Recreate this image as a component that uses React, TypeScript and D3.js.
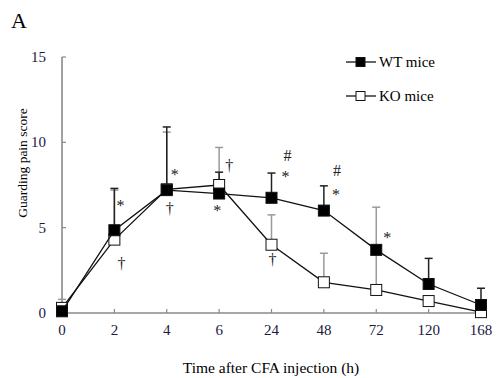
import React, { useEffect, useRef } from 'react'
import * as d3 from 'd3'

const times = ['0', '2', '4', '6', '24', '48', '72', '120', '168']
const wtMean = [0.1, 4.85, 7.2, 7.0, 6.75, 6.0, 3.7, 1.7, 0.47]
const wtUpper = [0.6, 7.3, 10.9, 8.25, 8.2, 7.45, 3.7, 3.2, 1.45]
const koMean = [0.3, 4.3, 7.25, 7.5, 4.0, 1.8, 1.35, 0.7, 0.05]
const koUpper = [0.8, 7.2, 10.6, 9.7, 5.75, 3.5, 6.2, 0.7, 0.05]
const yTicks = [0, 5, 10, 15]

// significance marks: [time index, symbol, dx, value position]
const marks: [number, string, number, number][] = [
  [1, '*', 6, 6.0],
  [1, '†', 7, 2.6],
  [2, '*', 8, 7.8],
  [2, '†', 3, 5.8],
  [3, '†', 10, 8.3],
  [3, '*', -2, 5.7],
  [4, '#', 16, 8.9],
  [4, '*', 14, 7.7],
  [4, '†', 1, 2.8],
  [5, '#', 13, 8.0],
  [5, '*', 12, 6.6],
  [6, '*', 11, 4.1],
]

export default function App() {
  const ref = useRef<SVGSVGElement>(null)

  useEffect(() => {
    const svg = d3.select(ref.current)
    svg.selectAll('*').remove()

    const font = "'Liberation Serif', 'Times New Roman', Times, serif"
    const x = d3.scalePoint<string>().domain(times).range([62, 481])
    const y = d3.scaleLinear().domain([0, 15]).range([313, 57])

    svg.append('text')
      .attr('x', 11).attr('y', 28)
      .style('font-family', font).attr('font-size', 22)
      .text('A')

    // axes
    const axisColor = '#8a8a8a'
    svg.append('line')
      .attr('x1', x('0')!).attr('x2', x('168')!)
      .attr('y1', y(0)).attr('y2', y(0))
      .attr('stroke', axisColor).attr('stroke-width', 1.6)
    svg.append('line')
      .attr('x1', x('0')!).attr('x2', x('0')!)
      .attr('y1', y(0)).attr('y2', y(15))
      .attr('stroke', axisColor).attr('stroke-width', 1.6)

    svg.selectAll('.ytick')
      .data(yTicks)
      .enter()
      .append('line')
      .attr('x1', x('0')!).attr('x2', x('0')! + 4)
      .attr('y1', d => y(d)).attr('y2', d => y(d))
      .attr('stroke', axisColor).attr('stroke-width', 1.2)

    svg.selectAll('.ylabel')
      .data(yTicks)
      .enter()
      .append('text')
      .attr('x', 46).attr('y', d => y(d) + 5)
      .attr('text-anchor', 'end')
      .style('font-family', font).attr('font-size', 15).attr('fill', '#1a1a40')
      .text(d => d)

    svg.selectAll('.xtick')
      .data(times.slice(1))
      .enter()
      .append('line')
      .attr('x1', d => x(d)!).attr('x2', d => x(d)!)
      .attr('y1', y(0)).attr('y2', y(0) - 4)
      .attr('stroke', axisColor).attr('stroke-width', 1.2)

    svg.selectAll('.xlabel')
      .data(times)
      .enter()
      .append('text')
      .attr('x', d => x(d)!).attr('y', 335)
      .attr('text-anchor', 'middle')
      .style('font-family', font).attr('font-size', 15).attr('fill', '#1a1a40')
      .text(d => d)

    svg.append('text')
      .attr('x', 271).attr('y', 373)
      .attr('text-anchor', 'middle')
      .style('font-family', font).attr('font-size', 15.5)
      .text('Time after CFA injection (h)')

    svg.append('text')
      .attr('transform', 'translate(27,163) rotate(-90)')
      .attr('text-anchor', 'middle')
      .style('font-family', font).attr('font-size', 13.5)
      .text('Guarding pain score')

    // error bars
    const errBars = (mean: number[], upper: number[], color: string) => {
      const g = svg.append('g')
      times.forEach((t, i) => {
        if (upper[i] <= mean[i]) return
        g.append('line')
          .attr('x1', x(t)!).attr('x2', x(t)!)
          .attr('y1', y(mean[i])).attr('y2', y(upper[i]))
          .attr('stroke', color).attr('stroke-width', 1.5)
        g.append('line')
          .attr('x1', x(t)! - 4).attr('x2', x(t)! + 4)
          .attr('y1', y(upper[i])).attr('y2', y(upper[i]))
          .attr('stroke', color).attr('stroke-width', 1.5)
      })
    }
    errBars(koMean, koUpper, '#9a9a9a')
    errBars(wtMean, wtUpper, '#222')

    const line = d3.line<number>()
      .x((d, i) => x(times[i])!)
      .y(d => y(d))

    const series = (mean: number[], fill: string) => {
      svg.append('path')
        .attr('d', line(mean)!)
        .attr('fill', 'none').attr('stroke', '#111').attr('stroke-width', 1.3)
      svg.selectAll(null)
        .data(mean)
        .enter()
        .append('rect')
        .attr('x', (d, i) => x(times[i])! - 5.5)
        .attr('y', d => y(d) - 5.5)
        .attr('width', 11).attr('height', 11)
        .attr('fill', fill).attr('stroke', '#111').attr('stroke-width', 1)
    }
    series(koMean, '#fff')
    series(wtMean, '#000')

    svg.selectAll('.mark')
      .data(marks)
      .enter()
      .append('text')
      .attr('x', d => x(times[d[0]])! + d[2])
      .attr('y', d => y(d[3]))
      .attr('text-anchor', 'middle')
      .style('font-family', font).attr('font-size', 16)
      .attr('fill', '#222')
      .text(d => d[1])

    // legend
    const legend = [['WT mice', '#000'], ['KO mice', '#fff']]
    legend.forEach((l, i) => {
      const ly = 62 + i * 34
      svg.append('line')
        .attr('x1', 346).attr('x2', 376).attr('y1', ly).attr('y2', ly)
        .attr('stroke', '#333').attr('stroke-width', 1.5)
      svg.append('rect')
        .attr('x', 356).attr('y', ly - 4.5).attr('width', 9).attr('height', 9)
        .attr('fill', l[1]).attr('stroke', '#111')
      svg.append('text')
        .attr('x', 379).attr('y', ly + 5)
        .style('font-family', font).attr('font-size', 15)
        .text(l[0])
    })
  }, [])

  return <svg ref={ref} width={497} height={378} style={{ position: 'absolute', left: 0, top: 0, background: '#fff' }}></svg>
}
